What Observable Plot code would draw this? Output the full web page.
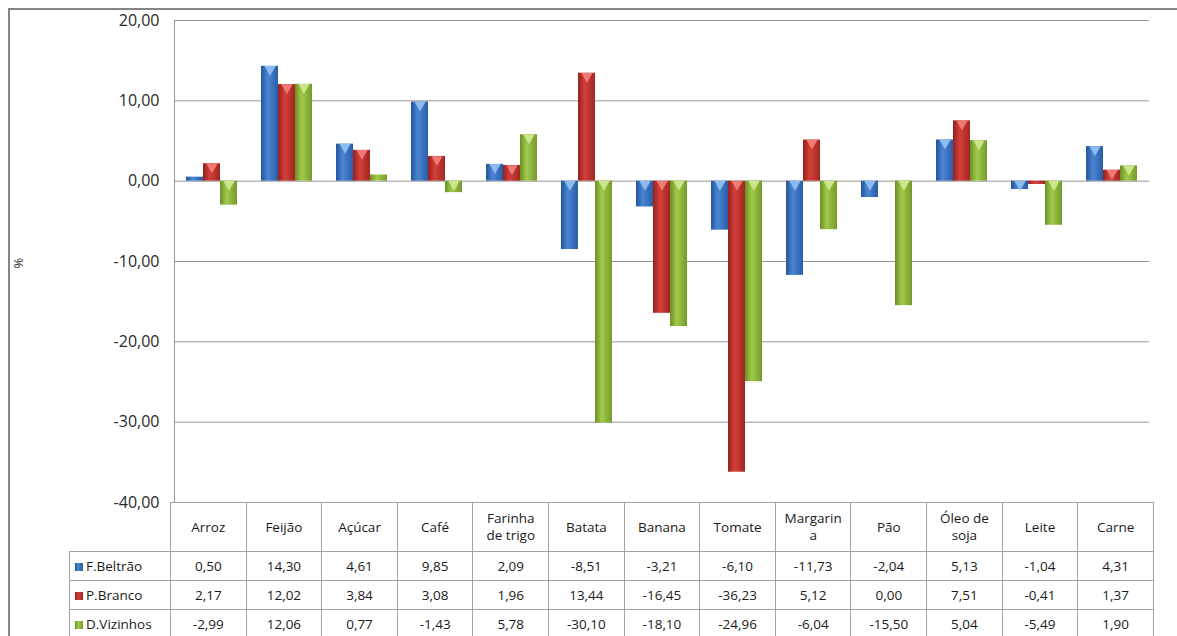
<!DOCTYPE html>
<html><head><meta charset="utf-8">
<script src="https://cdn.jsdelivr.net/npm/d3@7"></script>
<script src="https://cdn.jsdelivr.net/npm/@observablehq/plot@0.6"></script>
<style>
html,body{margin:0;padding:0;background:#fff;overflow:hidden;width:1177px;height:636px;position:relative}
#frame{position:absolute;left:8px;top:8px;width:1300px;height:800px;border:2px solid #858585;box-sizing:border-box}
#chart{position:absolute;left:0;top:0}
#ylabel{position:absolute;left:10px;top:254px;width:16px;text-align:center;transform:rotate(-90deg);font:13px "Open Sans",sans-serif;color:#333}
#tbl{position:absolute;left:69px;top:502px;border-collapse:collapse;table-layout:fixed;width:1084px;font-family:"Open Sans",sans-serif;font-size:13.5px;color:#1a1a1a}
#tbl td{border:1px solid #a3a3a3;text-align:center;padding:0;overflow:hidden;white-space:pre-line;line-height:17px}
#tbl tr.head td{height:48px}
#tbl tr.row td{height:28px}
#tbl td.blank{border-top:none;border-left:none;border-bottom:none}
#tbl td.lab{text-align:left;padding-left:5px;white-space:nowrap}
.key{display:inline-block;width:8px;height:8px;margin-right:3px;vertical-align:0px}
</style>
</head><body>
<div id="frame"></div>
<div id="chart"></div>
<div id="ylabel">%</div>
<table id="tbl"></table>
<script>
const categories = ["Arroz","Feijão","Açúcar","Café","Farinha de trigo","Batata","Banana","Tomate","Margarina","Pão","Óleo de soja","Leite","Carne"];
const headerLabels = ["Arroz","Feijão","Açúcar","Café","Farinha\nde trigo","Batata","Banana","Tomate","Margarin\na","Pão","Óleo de\nsoja","Leite","Carne"];
const seriesNames = ["F.Beltrão","P.Branco","D.Vizinhos"];
const fBeltrao = [0.50,14.30,4.61,9.85,2.09,-8.51,-3.21,-6.10,-11.73,-2.04,5.13,-1.04,4.31];
const pBranco = [2.17,12.02,3.84,3.08,1.96,13.44,-16.45,-36.23,5.12,0.00,7.51,-0.41,1.37];
const dVizinhos = [-2.99,12.06,0.77,-1.43,5.78,-30.10,-18.10,-24.96,-6.04,-15.50,5.04,-5.49,1.90];
const yTicks = [20,10,0,-10,-20,-30,-40];
const gradStops = [["#25549a","#4a86d4","#2a5ca6"],["#96201c","#d2403a","#a32622"],["#6a8f24","#a2cb4c","#74992a"]];
const triColors = ["#8dbbf0","#ee7a74","#cbe68a"];

const seriesValues = [fBeltrao,pBranco,dVizinhos];
const rows = categories.flatMap((c,i)=>seriesNames.map((s,j)=>({category:c,series:s,value:seriesValues[j][i]})));
const fmt = v => v.toFixed(2).replace(".", ",");

const plot = Plot.plot({
  width:1153, height:515, marginLeft:170, marginRight:0, marginTop:20, marginBottom:13,
  style:{fontFamily:"Open Sans, sans-serif", fontSize:"16px", color:"#2a2a2a", background:"transparent", overflow:"hidden"},
  fx:{domain:categories, padding:0, axis:null, label:null},
  x:{domain:seriesNames, paddingInner:0, paddingOuter:0.675, axis:null},
  y:{domain:[-40,20], axis:null, label:null},
  color:{domain:seriesNames, range:seriesNames.map((s,j)=>`url(#g${j})`)},
  marks:[
    Plot.gridY(yTicks, {stroke:"#959595", strokeOpacity:1}),
    Plot.frame({anchor:"left", facetAnchor:"left", stroke:"#959595"}),
    Plot.barY(rows, {fx:"category", x:"series", y:"value", fill:"series"}),
    ...seriesNames.map((s,j)=>Plot.dot(rows.filter(d=>d.series===s && Math.abs(d.value)>=1),
      {fx:"category", x:"series", y:d=>Math.max(0,d.value), symbol:"triangle", rotate:180, r:4.2, dy:3, fill:triColors[j], stroke:"none"})),
    Plot.axisY(yTicks, {tickSize:0, tickPadding:15, tickFormat:fmt, fontSize:16, facetAnchor:"left", label:null})
  ]
});
document.getElementById("chart").appendChild(plot);

const svg = d3.select(plot);
const defs = svg.insert("defs", ":first-child");
gradStops.forEach((st,j)=>{
  const g = defs.append("linearGradient").attr("id",`g${j}`).attr("x1","0").attr("x2","1").attr("y1","0").attr("y2","0");
  g.append("stop").attr("offset","0%").attr("stop-color",st[0]);
  g.append("stop").attr("offset","40%").attr("stop-color",st[1]);
  g.append("stop").attr("offset","100%").attr("stop-color",st[2]);
});

// data table
const tbl = d3.select("#tbl");
const cg = tbl.append("colgroup");
cg.append("col").style("width","101px");
categories.forEach(()=>cg.append("col").style("width",(983/13)+"px"));
const head = tbl.append("tr").attr("class","head");
head.append("td").attr("class","blank");
headerLabels.forEach(h=>head.append("td").text(h));
seriesNames.forEach((s,j)=>{
  const tr = tbl.append("tr").attr("class","row");
  const lab = tr.append("td").attr("class","lab");
  lab.append("span").attr("class","key").style("background",`linear-gradient(90deg, ${gradStops[j][0]}, ${gradStops[j][1]} 40%, ${gradStops[j][2]})`);
  lab.append("span").text(s);
  seriesValues[j].forEach(v=>tr.append("td").text(fmt(v)));
});
</script>
</body></html>
